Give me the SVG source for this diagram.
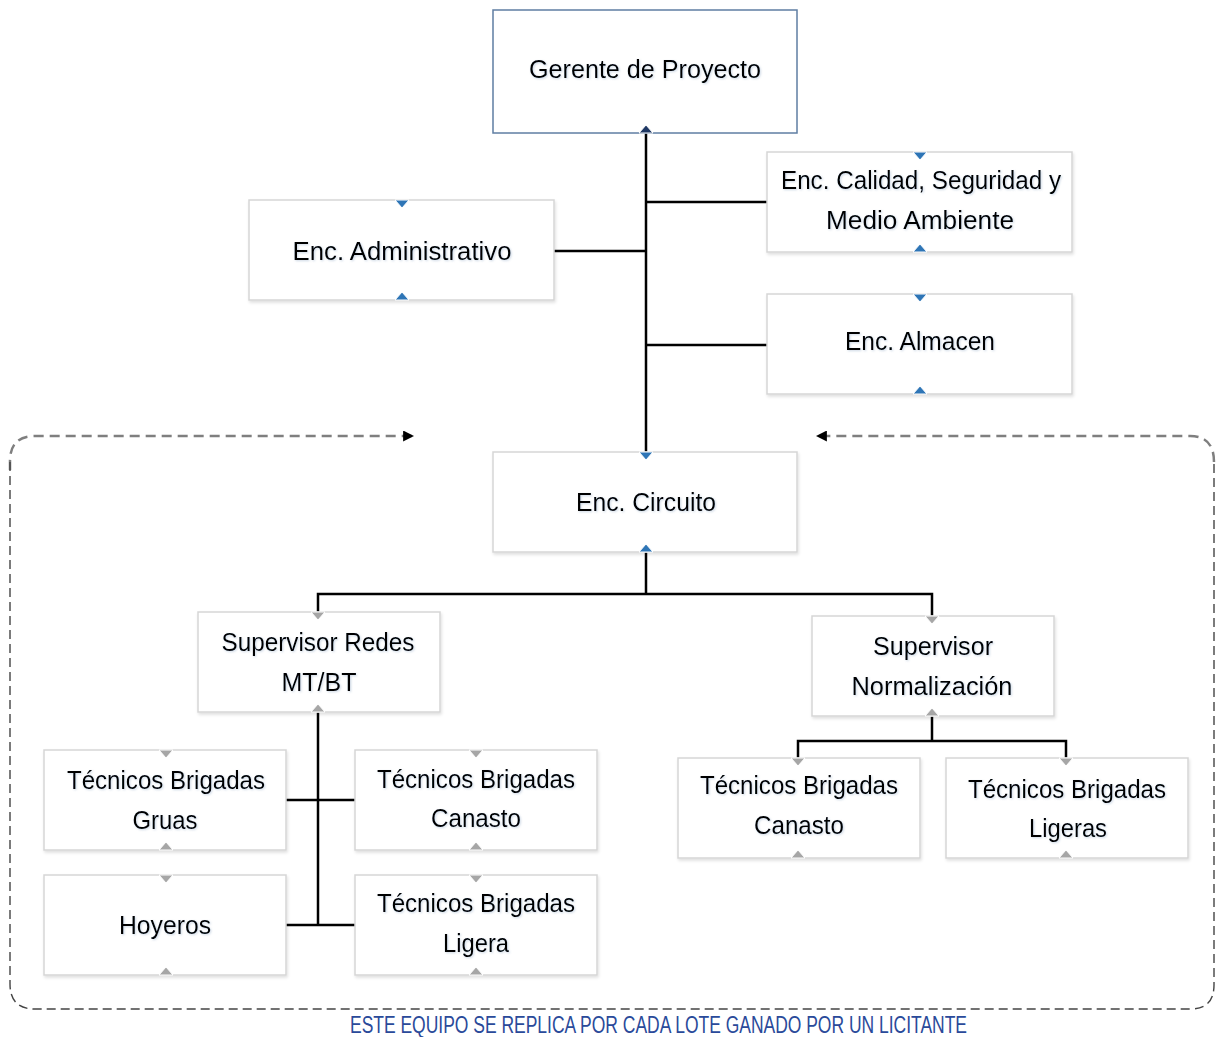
<svg xmlns="http://www.w3.org/2000/svg" width="1217" height="1037" viewBox="0 0 1217 1037">
<style>
.box{fill:#fff;stroke:#d6d6d6;stroke-width:1.5;filter:url(#sh)}
.top{fill:#fff;stroke:#5f7ea3;stroke-width:1.5}
.t{font-family:"Liberation Sans",Arial,sans-serif;font-size:26.5px;fill:#000;text-anchor:middle;filter:url(#ts)}
.ln{fill:none;stroke:#000;stroke-width:2.5}
.tb{fill:#2e75b6;stroke:#fff;stroke-width:1}
.tg{fill:#a6a6a6;stroke:#fff;stroke-width:1}
.dashTop{fill:none;stroke:#7f7f7f;stroke-width:2.5;stroke-dasharray:10 6}
.dashSide{fill:none;stroke:#444;stroke-width:1.4;stroke-dasharray:9 5}
.note{font-family:"Liberation Sans",Arial,sans-serif;font-size:23px;fill:#2a4a9a}
</style>
<defs>
<filter id="sh" x="-5%" y="-5%" width="110%" height="115%"><feDropShadow dx="1" dy="2" stdDeviation="1.5" flood-color="#000" flood-opacity="0.12"/></filter>
<filter id="ts" x="-5%" y="-20%" width="110%" height="140%"><feDropShadow dx="1" dy="1" stdDeviation="1" flood-color="#6a8ab0" flood-opacity="0.35"/></filter>
<marker id="ah" viewBox="0 0 10 10" refX="9" refY="5" markerUnits="userSpaceOnUse" markerWidth="11" markerHeight="11" orient="auto"><path d="M0 0L10 5L0 10z" fill="#000"/></marker>
</defs>
<rect width="1217" height="1037" fill="#fff"/>

<g id="connectors">
<line class="ln" x1="646" y1="130" x2="646" y2="455"/>
<line class="ln" x1="646" y1="202" x2="767" y2="202"/>
<line class="ln" x1="554" y1="251" x2="646" y2="251"/>
<line class="ln" x1="646" y1="345" x2="767" y2="345"/>
<path class="ln" d="M646 552V594M318 612V594H932V616"/>
<line class="ln" x1="318" y1="712" x2="318" y2="925"/>
<line class="ln" x1="286" y1="800" x2="355" y2="800"/>
<line class="ln" x1="286" y1="925" x2="355" y2="925"/>
<path class="ln" d="M932 716V741M798 758V741H1066V758"/>
<path class="dashTop" d="M10 470V461Q10 436 35 436H413" marker-end="url(#ah)"/>
<path class="dashTop" d="M1214 462Q1214 436 1190 436H817" marker-end="url(#ah)"/>
<path class="dashSide" d="M10 462V984Q10 1009 35 1009H1190Q1214 1009 1214 985V462"/>
</g>

<g id="gerente">
<rect class="top" x="493" y="10" width="304" height="123"/>
<path d="M639 133L646 125L653 133z" fill="#1f3864" stroke="#fff" stroke-width="1"/>
<text class="t" x="645" y="78" textLength="232" lengthAdjust="spacingAndGlyphs">Gerente de Proyecto</text>
</g>
<g id="administrativo">
<rect class="box" x="249" y="200" width="305" height="100"/>
<path class="tb" d="M395 200L402 208L409 200z"/><path class="tb" d="M395 300L402 292L409 300z"/>
<text class="t" x="402" y="260" textLength="219" lengthAdjust="spacingAndGlyphs">Enc. Administrativo</text>
</g>
<g id="calidad">
<rect class="box" x="767" y="152" width="305" height="100"/>
<path class="tb" d="M913 152L920 160L927 152z"/><path class="tb" d="M913 252L920 244L927 252z"/>
<text class="t" x="921" y="189" textLength="280" lengthAdjust="spacingAndGlyphs">Enc. Calidad, Seguridad y</text>
<text class="t" x="920" y="229" textLength="188" lengthAdjust="spacingAndGlyphs">Medio Ambiente</text>
</g>
<g id="almacen">
<rect class="box" x="767" y="294" width="305" height="100"/>
<path class="tb" d="M913 294L920 302L927 294z"/><path class="tb" d="M913 394L920 386L927 394z"/>
<text class="t" x="920" y="350" textLength="150" lengthAdjust="spacingAndGlyphs">Enc. Almacen</text>
</g>
<g id="circuito">
<rect class="box" x="493" y="452" width="304" height="100"/>
<path class="tb" d="M639 452L646 460L653 452z"/><path class="tb" d="M639 552L646 544L653 552z"/>
<text class="t" x="646" y="511" textLength="140" lengthAdjust="spacingAndGlyphs">Enc. Circuito</text>
</g>
<g id="sup-redes">
<rect class="box" x="198" y="612" width="242" height="100"/>
<path class="tg" d="M311 612L318 620L325 612z"/><path class="tg" d="M311 712L318 704L325 712z"/>
<text class="t" x="318" y="651" textLength="193" lengthAdjust="spacingAndGlyphs">Supervisor Redes</text>
<text class="t" x="319" y="691" textLength="75" lengthAdjust="spacingAndGlyphs">MT/BT</text>
</g>
<g id="sup-normalizacion">
<rect class="box" x="812" y="616" width="242" height="100"/>
<path class="tg" d="M925 616L932 624L939 616z"/><path class="tg" d="M925 716L932 708L939 716z"/>
<text class="t" x="933" y="655" textLength="120" lengthAdjust="spacingAndGlyphs">Supervisor</text>
<text class="t" x="932" y="695" textLength="161" lengthAdjust="spacingAndGlyphs">Normalización</text>
</g>
<g id="gruas">
<rect class="box" x="44" y="750" width="242" height="100"/>
<path class="tg" d="M159 750L166 758L173 750z"/><path class="tg" d="M159 850L166 842L173 850z"/>
<text class="t" x="166" y="789" textLength="198" lengthAdjust="spacingAndGlyphs">Técnicos Brigadas</text>
<text class="t" x="165" y="829" textLength="65" lengthAdjust="spacingAndGlyphs">Gruas</text>
</g>
<g id="canasto-1">
<rect class="box" x="355" y="750" width="242" height="100"/>
<path class="tg" d="M469 750L476 758L483 750z"/><path class="tg" d="M469 850L476 842L483 850z"/>
<text class="t" x="476" y="788" textLength="198" lengthAdjust="spacingAndGlyphs">Técnicos Brigadas</text>
<text class="t" x="476" y="827" textLength="90" lengthAdjust="spacingAndGlyphs">Canasto</text>
</g>
<g id="hoyeros">
<rect class="box" x="44" y="875" width="242" height="100"/>
<path class="tg" d="M159 875L166 883L173 875z"/><path class="tg" d="M159 975L166 967L173 975z"/>
<text class="t" x="165" y="934" textLength="92" lengthAdjust="spacingAndGlyphs">Hoyeros</text>
</g>
<g id="ligera">
<rect class="box" x="355" y="875" width="242" height="100"/>
<path class="tg" d="M469 875L476 883L483 875z"/><path class="tg" d="M469 975L476 967L483 975z"/>
<text class="t" x="476" y="912" textLength="198" lengthAdjust="spacingAndGlyphs">Técnicos Brigadas</text>
<text class="t" x="476" y="952" textLength="66" lengthAdjust="spacingAndGlyphs">Ligera</text>
</g>
<g id="canasto-2">
<rect class="box" x="678" y="758" width="242" height="100"/>
<path class="tg" d="M791 758L798 766L805 758z"/><path class="tg" d="M791 858L798 850L805 858z"/>
<text class="t" x="799" y="794" textLength="198" lengthAdjust="spacingAndGlyphs">Técnicos Brigadas</text>
<text class="t" x="799" y="834" textLength="90" lengthAdjust="spacingAndGlyphs">Canasto</text>
</g>
<g id="ligeras">
<rect class="box" x="946" y="758" width="242" height="100"/>
<path class="tg" d="M1059 758L1066 766L1073 758z"/><path class="tg" d="M1059 858L1066 850L1073 858z"/>
<text class="t" x="1067" y="798" textLength="198" lengthAdjust="spacingAndGlyphs">Técnicos Brigadas</text>
<text class="t" x="1068" y="837" textLength="78" lengthAdjust="spacingAndGlyphs">Ligeras</text>
</g>
<text class="note" x="350" y="1033" textLength="617" lengthAdjust="spacingAndGlyphs">ESTE EQUIPO SE REPLICA POR CADA LOTE GANADO POR UN LICITANTE</text>
</svg>
